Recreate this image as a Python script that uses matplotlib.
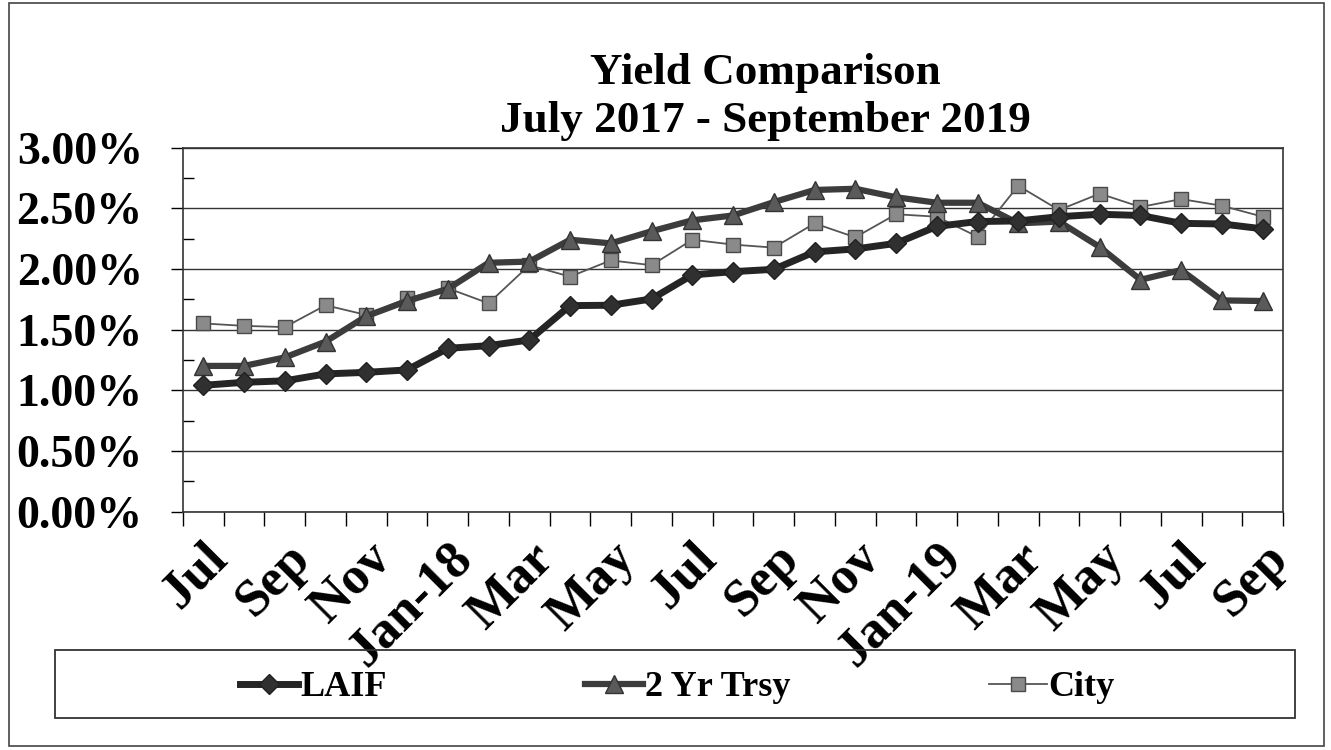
import matplotlib.pyplot as plt
import numpy as np
from matplotlib.patches import Rectangle
from matplotlib.ticker import FuncFormatter

months = ['Jul', 'Aug', 'Sep', 'Oct', 'Nov', 'Dec', 'Jan-18', 'Feb', 'Mar', 'Apr', 'May', 'Jun',
          'Jul', 'Aug', 'Sep', 'Oct', 'Nov', 'Dec', 'Jan-19', 'Feb', 'Mar', 'Apr', 'May', 'Jun',
          'Jul', 'Aug', 'Sep']

laif = [1.04, 1.065, 1.077, 1.134, 1.147, 1.167, 1.345, 1.367, 1.414, 1.697, 1.70, 1.752,
        1.95, 1.977, 1.996, 2.14, 2.164, 2.21, 2.35, 2.39, 2.395, 2.43, 2.45, 2.44,
        2.375, 2.37, 2.33]
trsy = [1.20, 1.20, 1.27, 1.40, 1.61, 1.735, 1.835, 2.05, 2.06, 2.24, 2.21, 2.31,
        2.40, 2.44, 2.55, 2.65, 2.66, 2.59, 2.545, 2.545, 2.375, 2.39, 2.18, 1.91,
        1.99, 1.74, 1.735]
city = [1.55, 1.53, 1.52, 1.70, 1.62, 1.757, 1.84, 1.716, 2.03, 1.936, 2.07, 2.03,
        2.24, 2.20, 2.175, 2.375, 2.26, 2.45, 2.43, 2.265, 2.685, 2.485, 2.62, 2.51,
        2.575, 2.52, 2.43]

serif = 'Liberation Serif'

fig = plt.figure(figsize=(13.31, 7.5), dpi=100)
ax = fig.add_axes([0.1375, 0.318, 0.8265, 0.4853])

x = np.arange(len(months))
ax.plot(x, np.array(city) / 100, color='#555555', lw=1.3, marker='s', ms=10,
        mfc='#8a8a8a', mec='#4a4a4a', mew=1, label='City', zorder=3)
ax.plot(x, np.array(trsy) / 100, color='#3c3c3c', lw=4.5, marker='^', ms=13,
        mfc='#5a5a5a', mec='#333333', mew=1, label='2 Yr Trsy', zorder=4)
ax.plot(x, np.array(laif) / 100, color='#252525', lw=5, marker='D', ms=10,
        mfc='#303030', mec='#202020', label='LAIF', zorder=5)

ax.set_xlim(-0.5, len(months) - 0.5)
ax.set_ylim(0, 0.03)
ax.set_yticks(np.arange(0, 0.0301, 0.005))
ax.set_yticks(np.arange(0, 0.03, 0.0025), minor=True)
ax.yaxis.set_major_formatter(FuncFormatter(lambda v, p: '{:.2f}%'.format(v * 100)))
ax.grid(axis='y', which='major', color='#333333', lw=1)
ax.tick_params(axis='y', which='major', length=9, width=1, pad=20)
ax.tick_params(axis='y', which='minor', direction='in', length=8, width=1)
for lab in ax.get_yticklabels():
    lab.set_fontfamily(serif)
    lab.set_fontweight('bold')
    lab.set_fontsize(33)

ax.set_xticks(np.arange(-0.5, len(months), 1))
ax.set_xticklabels([])
ax.set_xticks(x[::2], minor=True)
ax.set_xticklabels(months[::2], minor=True, rotation=45, ha='right', va='top',
                   rotation_mode='anchor', fontfamily=serif, fontweight='bold', fontsize=38)
ax.tick_params(axis='x', which='major', length=10, width=1, direction='out')
ax.tick_params(axis='x', which='minor', length=0, pad=16)

for s in ax.spines.values():
    s.set_color('#333333')
    s.set_linewidth(1.2)

fig.text(0.575, 0.888, 'Yield Comparison', ha='center', va='baseline',
         fontfamily=serif, fontweight='bold', fontsize=32.5)
fig.text(0.575, 0.824, 'July 2017 - September 2019', ha='center', va='baseline',
         fontfamily=serif, fontweight='bold', fontsize=32.5)

handles, labels = ax.get_legend_handles_labels()
order = [2, 1, 0]
fig.legend([handles[i] for i in order], [labels[i] for i in order], loc='center',
           bbox_to_anchor=(0.509, 0.083), ncol=3, frameon=False, handlelength=1.6,
           handletextpad=0.05, columnspacing=5.5,
           prop={'family': serif, 'weight': 'bold', 'size': 26})

fig.patches.append(Rectangle((0.041, 0.043), 0.932, 0.09, transform=fig.transFigure,
                             fill=False, ec='#333333', lw=1.3))
fig.patches.append(Rectangle((0.007, 0.006), 0.988, 0.99, transform=fig.transFigure,
                             fill=False, ec='#444444', lw=1.2))

fig.savefig('out.png', dpi=100)
